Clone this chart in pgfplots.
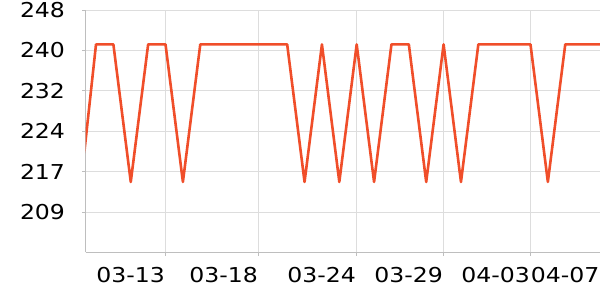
\documentclass[border=0pt]{standalone}
\usepackage{pgfplots}
\pgfplotsset{compat=1.18}
\usepackage{fontspec}
\setmainfont{DejaVu Sans}[FakeStretch=1.15]
\definecolor{lineorange}{RGB}{240,78,42}
\definecolor{gridgray}{RGB}{221,221,221}
\definecolor{axgray}{RGB}{190,190,190}
\begin{document}
\begin{tikzpicture}
\begin{axis}[
  at={(85.7bp,47.7bp)}, anchor=south west,
  scale only axis, width=514.3bp, height=242.3bp,
  xmin=-0.593, xmax=29, ymin=201.1, ymax=247.6,
  axis x line*=bottom, axis y line*=left,
  axis line style={-, draw=axgray, line width=0.8bp},
  tick style={draw=axgray, line width=0.8bp},
  tick align=outside, major tick length=3.5bp,
  grid=major, major grid style={draw=gridgray, line width=0.8bp},
  xtick={4,9.36,15,20,25,29},
  xticklabels={03-13,03-18,03-24,03-29,04-03,04-07},
  ytick={208.85,216.6,224.35,232.1,239.85,247.6},
  yticklabels={209,217,224,232,240,248},
  font=\fontsize{20.5bp}{24bp}\selectfont,
  xticklabel style={anchor=north east, inner sep=0pt, yshift=-11bp, xshift=-0.5bp},
  yticklabel style={anchor=east, inner sep=0pt, xshift=-17bp},
  clip=true,
]
\addplot[lineorange, line width=2.6bp, line join=round, mark=none] coordinates {
(-1,210.2) (0,241) (1,241) (2,214.6) (3,241) (4,241) (5,214.6)
(6,241) (7,241) (8,241) (9,241) (10,241) (11,241) (12,214.6)
(13,241) (14,214.6) (15,241) (16,214.6) (17,241) (18,241) (19,214.6)
(20,241) (21,214.6) (22,241) (23,241) (24,241) (25,241) (26,214.6)
(27,241) (28,241) (29,241) (30,241)
};
\end{axis}
\pgfresetboundingbox
\useasboundingbox (0,0) rectangle (600bp,300bp);
\end{tikzpicture}
\end{document}
